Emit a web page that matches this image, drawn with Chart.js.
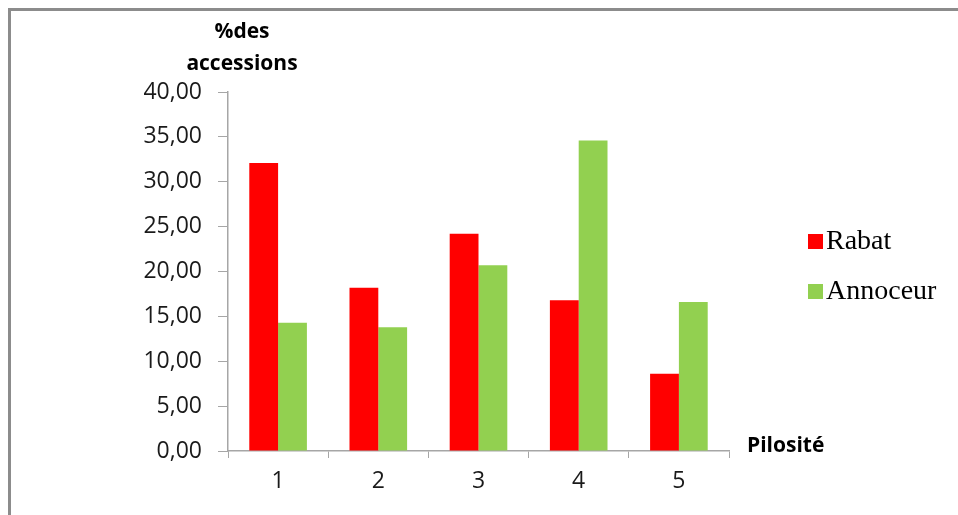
<!DOCTYPE html>
<html>
<head>
<meta charset="utf-8">
<script src="https://cdn.jsdelivr.net/npm/chart.js@4.4.0/dist/chart.umd.min.js"></script>
<style>
  html, body { margin: 0; padding: 0; background: #fff; }
  #wrap { width: 958px; height: 515px; position: relative; }
</style>
</head>
<body>
<div id="wrap"><canvas id="myChart" width="958" height="515"></canvas></div>
<script>
// pilosity classes and % of accessions per site
const categories = ['1', '2', '3', '4', '5'];
const rabat = [32.1, 18.2, 24.2, 16.8, 8.6];
const annoceur = [14.3, 13.8, 20.7, 34.6, 16.6];
const yTicks = [0, 5, 10, 15, 20, 25, 30, 35, 40];

const axisGray = '#a6a6a6';
const tickFont = { family: 'Open Sans', size: 23 };

// outer frame + axis titles
const decor = {
  id: 'decor',
  beforeDraw(chart) {
    const ctx = chart.ctx;
    ctx.save();
    ctx.fillStyle = '#fff';
    ctx.fillRect(0, 0, chart.width, chart.height);
    ctx.strokeStyle = '#8c8c8c';
    ctx.lineWidth = 3;
    ctx.strokeRect(9.5, 9.5, 1000, 600);
    ctx.restore();
  },
  afterDraw(chart) {
    const ctx = chart.ctx;
    ctx.save();
    ctx.fillStyle = '#000';
    ctx.font = 'bold 21px "Open Sans"';
    ctx.textAlign = 'center';
    ctx.textBaseline = 'middle';
    ctx.fillText('%des', 242, 32);
    ctx.fillText('accessions', 242, 64);
    ctx.textAlign = 'left';
    ctx.fillText('Pilosité', 747, 446);
    ctx.restore();
  }
};

// legend drawn by hand on the right
const sideLegend = {
  id: 'sideLegend',
  afterDraw(chart) {
    const ctx = chart.ctx;
    ctx.save();
    ctx.font = '28px "Liberation Serif"';
    ctx.textBaseline = 'middle';
    chart.data.datasets.forEach(function(ds, i) {
      const y = 241 + i * 50;
      ctx.fillStyle = ds.backgroundColor;
      ctx.fillRect(808, y - 7, 15, 15);
      ctx.fillStyle = '#000';
      ctx.fillText(ds.label, 826, y + 1);
    });
    ctx.restore();
  }
};

const data = {
  labels: categories,
  datasets: [{
    label: 'Rabat',
    backgroundColor: '#ff0000',
    data: rabat,
    barPercentage: 1,
    categoryPercentage: 0.575
  }, {
    label: 'Annoceur',
    backgroundColor: '#92d050',
    data: annoceur,
    barPercentage: 1,
    categoryPercentage: 0.575
  }]
};

const config = {
  type: 'bar',
  data: data,
  options: {
    responsive: false,
    animation: false,
    layout: { padding: { top: 92, right: 229, left: 0, bottom: 0 } },
    plugins: {
      legend: { display: false },
      tooltip: { enabled: false }
    },
    scales: {
      x: {
        offset: true,
        grid: {
          offset: true,
          drawOnChartArea: false,
          drawTicks: true,
          tickLength: 7,
          color: axisGray
        },
        border: { color: axisGray, width: 1.5 },
        ticks: { color: '#1a1a1a', font: tickFont, padding: 10 },
        afterFit(scale) { scale.height = 64; }
      },
      y: {
        min: 0,
        max: 40,
        afterBuildTicks(scale) {
          scale.ticks = yTicks.map(function(v) { return { value: v }; });
        },
        grid: {
          drawOnChartArea: false,
          drawTicks: true,
          tickLength: 10,
          color: axisGray
        },
        border: { color: axisGray, width: 1.5 },
        ticks: {
          color: '#1a1a1a',
          font: tickFont,
          padding: 16,
          callback: function(v) { return v.toFixed(2).replace('.', ','); }
        },
        afterFit(scale) { scale.width = 228; }
      }
    }
  },
  plugins: [decor, sideLegend]
};

const myChart = new Chart(document.getElementById('myChart'), config);
</script>
</body>
</html>
